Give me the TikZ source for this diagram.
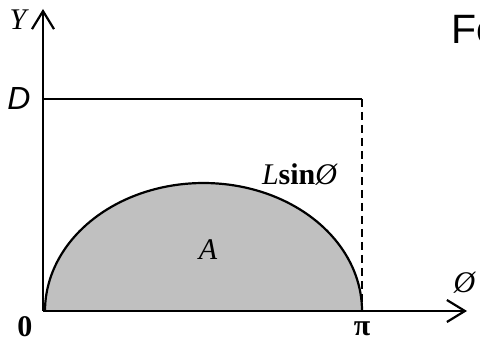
\documentclass[tikz,border=0pt]{standalone}
\usepackage{fontspec}
\setmainfont{Liberation Serif}
\setsansfont{Liberation Sans}
\usetikzlibrary{arrows.meta}
\definecolor{Shade}{HTML}{C0C0C0}
\tikzset{
  lbl/.style={inner sep=0pt,font=\fontsize{15}{18}\selectfont},
  axis/.style={line width=1.2pt,-{Straight Barb[length=9pt,width=11pt,line width=1.1pt]}}
}

\begin{document}
\begin{tikzpicture}[x=.5pt,y=-.5pt,line width=1.1pt]
\useasboundingbox(0,0) rectangle (480,340);
\coordinate(o) at (43,311);
\coordinate(ytip) at (43,9);
\coordinate(xtip) at (467,311);
\coordinate(dl) at (43,99);
\coordinate(dr) at (362,99);
\coordinate(pi) at (362,311);
% area under the curve
\fill[Shade] plot[domain=180:0,samples=90]({203.5+158.5*cos(\x)},{311-128*sin(\x)}) -- cycle;
\draw plot[domain=180:0,samples=90]({203.5+158.5*cos(\x)},{311-128*sin(\x)});
\draw(dl)--(dr);
\draw[dashed,dash pattern=on 4pt off 2.5pt,line width=.8pt](dr)--(pi);
\draw[axis](o)--(ytip);
\draw[axis](o)--(xtip);
\node[lbl,font=\fontsize{15}{18}\selectfont\itshape](ylab) at (18,20){Y};
\node[lbl,font=\sffamily\itshape\fontsize{16}{19}\selectfont](dlab) at (19,98){D};
\node[lbl,font=\fontsize{15}{18}\selectfont\bfseries](zero) at (25,327){0};
\node[lbl,font=\fontsize{15}{18}\selectfont\bfseries](pilab) at (362,329){π};
\node[lbl](phi) at (465,283){\textit{Ø}};
\node[lbl](curve) at (300,175){\textit{L}\textbf{sin}\textit{Ø}};
\node[lbl](area) at (208,250){\textit{A}};
\node[anchor=north west,inner sep=0pt,font=\sffamily\fontsize{20.5}{25}\selectfont](fo) at (450,14){Fo};
\end{tikzpicture}
\end{document}
